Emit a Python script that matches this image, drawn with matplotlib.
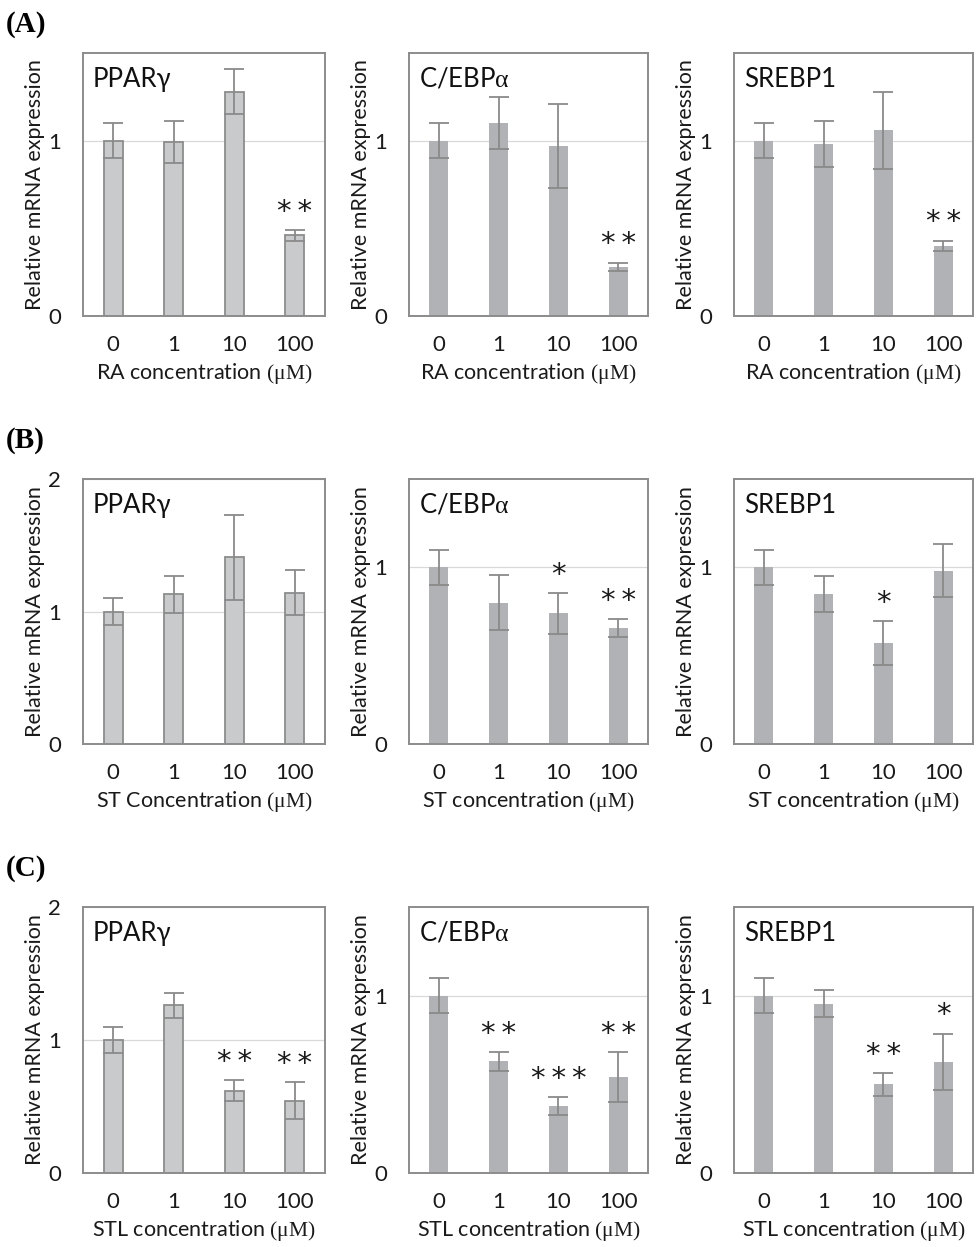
import numpy as np
import matplotlib as mpl
mpl.use('Agg')
import matplotlib.pyplot as plt

plt.rcParams['font.family'] = ['Lato', 'DejaVu Sans']
plt.rcParams['mathtext.fontset'] = 'custom'
plt.rcParams['mathtext.rm'] = 'Liberation Serif'
plt.rcParams['mathtext.it'] = 'Liberation Serif:italic'

# categories
doses = ['0', '1', '10', '100']
genes = ['PPAR\u03b3', r'C/EBP$\mathrm{\alpha}$', 'SREBP1']
compounds = ['RA concentration', 'ST Concentration', 'ST concentration', 'STL concentration']
panel_tags = ['(A)', '(B)', '(C)']

# (A) RA
ra_ppar = [1.00, 0.99, 1.28, 0.46]
ra_ppar_err = [0.10, 0.12, 0.13, 0.03]
ra_cebp = [1.00, 1.10, 0.97, 0.28]
ra_cebp_err = [0.10, 0.15, 0.24, 0.025]
ra_srebp = [1.00, 0.98, 1.06, 0.40]
ra_srebp_err = [0.10, 0.13, 0.22, 0.03]
ra_stars = [['', '', '', '**'], ['', '', '', '**'], ['', '', '', '**']]

# (B) ST
st_ppar = [1.00, 1.13, 1.41, 1.14]
st_ppar_err = [0.10, 0.14, 0.32, 0.17]
st_cebp = [1.00, 0.80, 0.74, 0.655]
st_cebp_err = [0.10, 0.155, 0.115, 0.05]
st_srebp = [1.00, 0.85, 0.57, 0.98]
st_srebp_err = [0.10, 0.10, 0.125, 0.15]
st_stars = [['', '', '', ''], ['', '', '*', '**'], ['', '', '*', '']]

# (C) STL
stl_ppar = [1.00, 1.26, 0.62, 0.545]
stl_ppar_err = [0.10, 0.095, 0.078, 0.14]
stl_cebp = [1.00, 0.63, 0.377, 0.543]
stl_cebp_err = [0.10, 0.053, 0.049, 0.14]
stl_srebp = [1.00, 0.955, 0.50, 0.626]
stl_srebp_err = [0.10, 0.077, 0.064, 0.16]
stl_stars = [['', '', '**', '**'], ['', '**', '***', '**'], ['', '', '**', '*']]

rows = [
    (ra_ppar, ra_ppar_err, ra_cebp, ra_cebp_err, ra_srebp, ra_srebp_err, ra_stars),
    (st_ppar, st_ppar_err, st_cebp, st_cebp_err, st_srebp, st_srebp_err, st_stars),
    (stl_ppar, stl_ppar_err, stl_cebp, stl_cebp_err, stl_srebp, stl_srebp_err, stl_stars),
]
row_xlabels = [[compounds[0]] * 3, [compounds[1], compounds[2], compounds[2]], [compounds[3]] * 3]
ppar_ymax = [1.5, 2.0, 2.0]

W, H = 976, 1247
fig = plt.figure(figsize=(W / 100, H / 100), dpi=100)

col_px = [(83, 242), (409, 239), (734, 239)]
row_px = [(53, 316), (479, 744), (907, 1173)]
tag_y = [24, 440, 868]

edge = '#8c8c8c'
err_col = '#8a8a8a'
fs = 15.5

for r, data in enumerate(rows):
    vals = [data[0], data[2], data[4]]
    errs = [data[1], data[3], data[5]]
    stars = data[6]
    top, bot = row_px[r]
    fig.text(6 / W, 1 - tag_y[r] / H, panel_tags[r], family='Liberation Serif',
             fontweight='bold', fontsize=21, va='center', ha='left')
    for c in range(3):
        left, width = col_px[c]
        ax = fig.add_axes([left / W, 1 - bot / H, width / W, (bot - top) / H])
        x = np.arange(len(doses))
        if c == 0:
            ax.bar(x, vals[c], width=0.32, color='#c9cacc', edgecolor=edge, linewidth=1.3, zorder=2)
            ymax = ppar_ymax[r]
        else:
            ax.bar(x, vals[c], width=0.32, color='#b1b2b5', zorder=2)
            ymax = 1.5
        ax.errorbar(x, vals[c], yerr=errs[c], fmt='none', ecolor=err_col, elinewidth=1.3,
                    capsize=7.5, capthick=1.3, zorder=3)
        for i in range(len(doses)):
            if stars[c][i]:
                ax.annotate('\u2009'.join(stars[c][i]), xy=(x[i], vals[c][i] + errs[c][i]),
                            xytext=(0, 3), textcoords='offset points',
                            ha='center', va='bottom', fontsize=21, color='#1a1a1a',
                            family='DejaVu Sans')
        ax.set_xlim(-0.5, 3.5)
        ax.set_ylim(0, ymax)
        ax.set_yticks(np.arange(0, ymax + 0.01, 1))
        ax.set_yticklabels([str(int(v)) for v in np.arange(0, ymax + 0.01, 1)])
        ax.set_xticks(x)
        ax.set_xticklabels(doses)
        ax.tick_params(length=0, labelsize=fs + 0.5, colors='#1a1a1a')
        ax.tick_params(axis='y', pad=16)
        ax.tick_params(axis='x', pad=14)
        ax.yaxis.grid(True, color='#d9d9d9', linewidth=0.9, zorder=0)
        ax.set_axisbelow(True)
        for s in ax.spines.values():
            s.set_color('#8c8c8c')
            s.set_linewidth(1.4)
        ax.set_ylabel('Relative mRNA expression', fontsize=fs, color='#1a1a1a', labelpad=2)
        ax.set_xlabel(row_xlabels[r][c] + r' $\mathrm{(\mu M)}$', fontsize=fs,
                      color='#1a1a1a', labelpad=4)
        ax.annotate(genes[c], xy=(0, 1), xycoords='axes fraction', xytext=(7, -10),
                    textcoords='offset points', ha='left', va='top', fontsize=18.5,
                    color='#111111')

fig.savefig('out.png', dpi=100)
